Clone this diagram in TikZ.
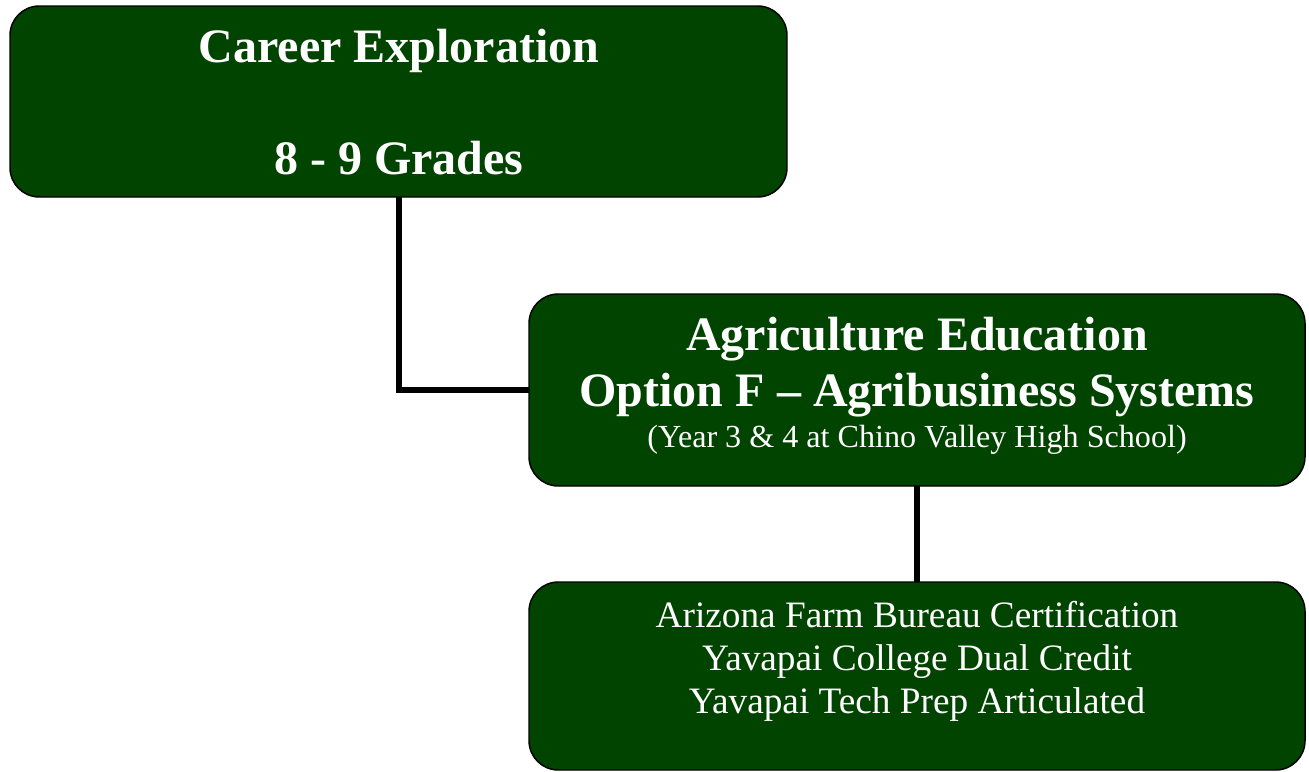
\documentclass[tikz,border=0pt]{standalone}
\usepackage{fontspec}
\setmainfont{Liberation Serif}
\definecolor{boxgreen}{RGB}{0,68,0}
\begin{document}
\begin{tikzpicture}[x=0.75pt,y=-0.75pt,
  greenbox/.style={draw=black,line width=1.1pt,fill=boxgreen,rounded corners=22pt},
  conn/.style={draw=black,line width=4pt},
  bigtxt/.style={text=white,font=\fontsize{36}{40}\selectfont\bfseries,anchor=base,inner sep=0pt},
  smalltxt/.style={text=white,font=\fontsize{24.1}{28}\selectfont,anchor=base,inner sep=0pt},
  midtxt/.style={text=white,font=\fontsize{27.95}{32}\selectfont,anchor=base,inner sep=0pt}]
\useasboundingbox (0,0) rectangle (1309,771);
\coordinate (bend) at (399,390);
\draw[conn] (399,197) coordinate (b1s) -- (bend) -- (529,390) coordinate (b2w);
\draw[conn] (917,486) coordinate (b2s) -- (917,582) coordinate (b3n);
\path[greenbox] (10,6) rectangle (787,197);
\path[greenbox] (529,294) rectangle (1305,486);
\path[greenbox] (529,582) rectangle (1305,770);
\node[bigtxt] (t1) at (399,62) {Career Exploration};
\node[bigtxt] (t2) at (399,174) {8 - 9 Grades};
\node[bigtxt] (t3) at (917,350) {Agriculture Education};
\node[bigtxt] (t4) at (917,406) {Option F – Agribusiness Systems};
\node[smalltxt] (t5) at (917,447) {(Year 3 \& 4 at Chino Valley High School)};
\node[midtxt] (t6) at (917,627) {Arizona Farm Bureau Certification};
\node[midtxt] (t7) at (917,670) {Yavapai College Dual Credit};
\node[midtxt] (t8) at (917,713) {Yavapai Tech Prep Articulated};
\end{tikzpicture}
\end{document}
